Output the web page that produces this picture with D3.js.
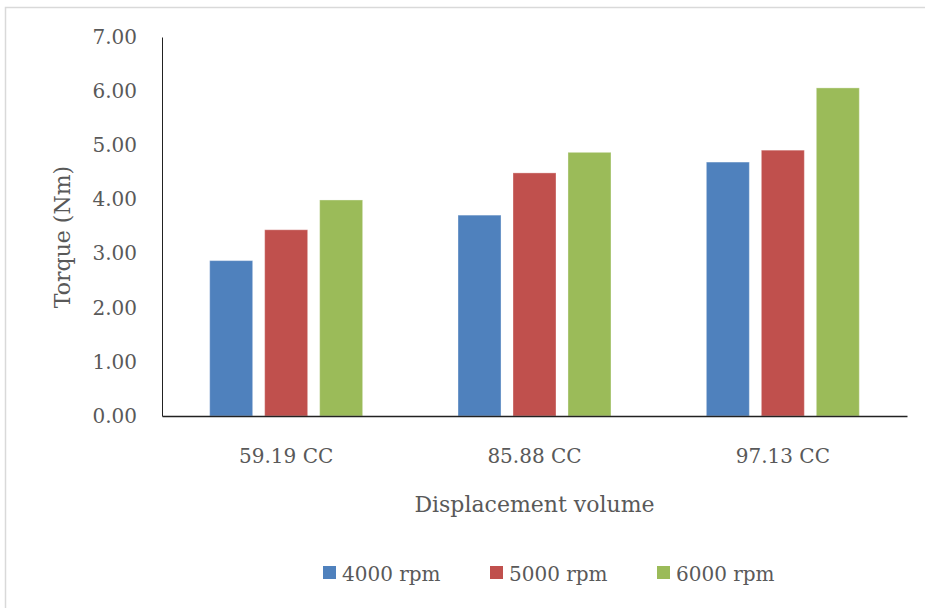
<!DOCTYPE html>
<html>
<head>
<meta charset="utf-8">
<script src="https://cdn.jsdelivr.net/npm/d3@7/dist/d3.min.js"></script>
<style>
  html, body { margin: 0; padding: 0; background: #fff; }
  svg { display: block; }
  text { font-family: "DejaVu Serif", serif; fill: #595959; }
</style>
</head>
<body>
<svg id="chart" width="925" height="608"></svg>
<script>
const categories = ["59.19 CC", "85.88 CC", "97.13 CC"];
const seriesNames = ["4000 rpm", "5000 rpm", "6000 rpm"];
const values4000 = [2.87, 3.71, 4.69];
const values5000 = [3.44, 4.49, 4.91];
const values6000 = [3.99, 4.87, 6.06];
const colors = ["#4F81BD", "#C0504D", "#9BBB59"];
const yTicks = [0, 1, 2, 3, 4, 5, 6, 7];

(function () {
const seriesValues = [values4000, values5000, values6000];
const data = categories.map((c, i) => ({
  cat: c,
  vals: seriesNames.map((s, j) => ({ s, v: seriesValues[j][i], color: colors[j] }))
}));

const svg = d3.select("#chart");

// outer frame
svg.append("rect")
  .attr("x", 5.5).attr("y", 7.5)
  .attr("width", 1000).attr("height", 700)
  .attr("fill", "none")
  .attr("stroke", "#d9d9d9")
  .attr("stroke-width", 1.5);

const pLeft = 162, pRight = 907, pTop = 37, pBottom = 416;

const y = d3.scaleLinear().domain([0, 7]).range([pBottom, pTop]);
const x0 = d3.scaleBand().domain(categories).range([pLeft, pRight])
  .paddingInner(0.384).paddingOuter(0.192);
const x1 = d3.scaleBand().domain(seriesNames).range([0, x0.bandwidth()])
  .paddingInner(0.218).paddingOuter(0);

// bars
const groups = svg.append("g").selectAll("g").data(data).join("g")
  .attr("transform", d => `translate(${x0(d.cat)},0)`);
groups.selectAll("rect").data(d => d.vals).join("rect")
  .attr("x", d => x1(d.s))
  .attr("width", x1.bandwidth())
  .attr("y", d => y(d.v))
  .attr("height", d => y(0) - y(d.v))
  .attr("fill", d => d.color)
  .attr("stroke", "rgba(255,255,255,0.35)")
  .attr("stroke-width", 1);

// y axis
const yAxis = svg.append("g")
  .attr("transform", `translate(${pLeft},0)`)
  .call(d3.axisLeft(y).tickValues(yTicks).tickFormat(d3.format(".2f"))
    .tickSizeInner(0).tickSizeOuter(0).tickPadding(25));
yAxis.select(".domain").attr("stroke", "#222").attr("stroke-width", 1);
yAxis.selectAll("text").attr("font-size", 20).attr("fill", "#595959")
  .attr("font-family", "DejaVu Serif");

// x axis
const xAxis = svg.append("g")
  .attr("transform", `translate(0,${pBottom})`)
  .call(d3.axisBottom(x0).tickSizeInner(0).tickSizeOuter(0).tickPadding(33));
xAxis.select(".domain").attr("stroke", "#222").attr("stroke-width", 1.3);
xAxis.selectAll("text").attr("font-size", 20).attr("fill", "#595959")
  .attr("font-family", "DejaVu Serif");

// axis titles
svg.append("text")
  .attr("x", (pLeft + pRight) / 2).attr("y", 512)
  .attr("text-anchor", "middle")
  .attr("font-size", 22)
  .text("Displacement volume");

svg.append("text")
  .attr("transform", "translate(70,237) rotate(-90)")
  .attr("text-anchor", "middle")
  .attr("font-size", 22)
  .text("Torque (Nm)");

// legend
const legend = svg.append("g").selectAll("g").data(seriesNames).join("g")
  .attr("transform", (d, i) => `translate(${323 + i * 167},566)`);
legend.append("rect")
  .attr("width", 13).attr("height", 13)
  .attr("fill", (d, i) => colors[i]);
legend.append("text")
  .attr("x", 19).attr("y", 14.5)
  .attr("font-size", 20)
  .text(d => d);
})();
</script>
</body>
</html>
